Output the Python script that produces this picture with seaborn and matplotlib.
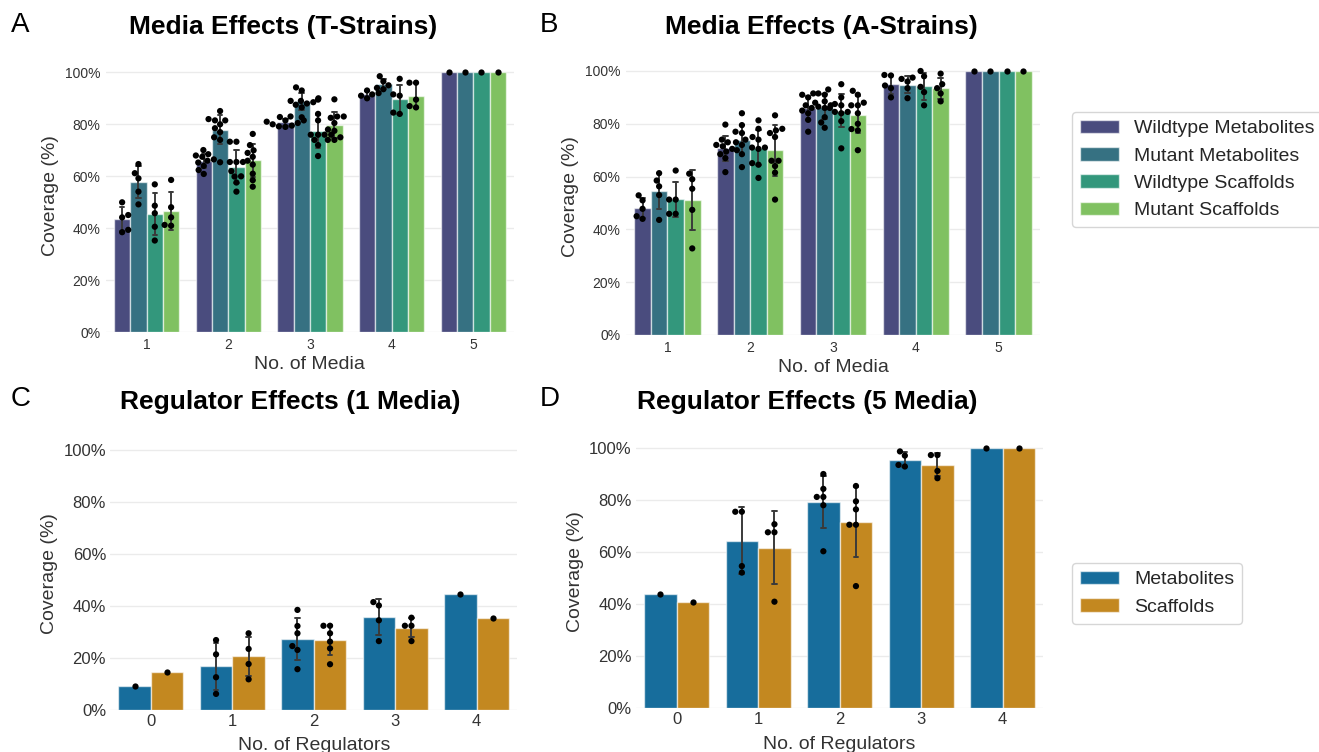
import matplotlib
matplotlib.use("Agg")
import matplotlib.pyplot as plt
import seaborn as sns
import pandas as pd
from matplotlib.ticker import PercentFormatter

# ---------------- data ----------------
media_levels = ["1", "2", "3", "4", "5"]
strain_groups = ["Wildtype Metabolites", "Mutant Metabolites",
                 "Wildtype Scaffolds", "Mutant Scaffolds"]

# T-strains: coverage (%) per number of media
t_wildtype_metabolites = [
    [50.0, 45.1, 44.2, 39.4, 38.5],
    [70.1, 68.5, 68.0, 67.5, 66.5, 66.0, 65.3, 64.0, 62.4, 60.9],
    [83.0, 82.8, 81.5, 81.5, 81.0, 80.5, 80.0, 79.5, 79.2, 79.0],
    [93.0, 92.0, 91.5, 91.0, 90.0],
    [100.0],
]
t_mutant_metabolites = [
    [64.7, 61.2, 59.2, 54.1, 49.2],
    [85.1, 82.0, 81.5, 81.5, 80.0, 78.5, 77.0, 75.0, 74.0, 65.4],
    [94.2, 93.0, 90.0, 88.0, 89.0, 89.0, 88.5, 87.5, 86.5, 82.7],
    [98.5, 96.5, 95.0, 94.0, 93.5],
    [100.0],
]
t_wildtype_scaffolds = [
    [56.9, 48.7, 45.8, 40.6, 35.3],
    [73.3, 73.3, 65.5, 65.5, 65.5, 62.0, 60.0, 59.9, 57.6, 54.1],
    [89.5, 84.0, 81.5, 76.0, 76.0, 76.0, 76.0, 74.0, 72.0, 67.8],
    [97.5, 91.5, 91.0, 84.5, 84.0],
    [100.0],
]
t_mutant_scaffolds = [
    [58.6, 48.1, 44.2, 41.3, 41.0],
    [76.3, 72.0, 70.0, 69.0, 67.5, 66.0, 64.5, 61.0, 58.5, 56.0],
    [89.6, 83.0, 83.0, 82.5, 80.5, 78.0, 77.5, 75.0, 74.0, 74.0],
    [96.0, 96.0, 89.5, 87.0, 86.5],
    [100.0],
]

# A-strains
a_wildtype_metabolites = [
    [52.9, 51.0, 47.8, 45.0, 44.0],
    [79.7, 74.0, 73.0, 72.0, 71.5, 70.5, 69.5, 68.5, 67.0, 61.7],
    [91.5, 91.0, 90.0, 88.0, 87.0, 86.0, 85.0, 84.0, 81.5, 77.0],
    [98.5, 98.3, 94.5, 93.5, 90.0],
    [100.0],
]
a_mutant_metabolites = [
    [61.3, 58.5, 56.3, 53.0, 43.6],
    [84.0, 79.5, 77.0, 76.5, 74.0, 73.0, 72.0, 70.0, 68.5, 63.6],
    [93.0, 91.5, 91.0, 88.5, 87.0, 86.5, 86.0, 80.5, 82.5, 78.5],
    [97.5, 97.0, 96.0, 93.5, 89.7],
    [100.0],
]
a_wildtype_scaffolds = [
    [62.3, 51.3, 51.3, 45.9, 45.9],
    [81.3, 78.1, 75.0, 74.0, 71.0, 71.0, 70.5, 64.5, 65.1, 59.5],
    [95.0, 90.0, 86.0, 87.5, 87.0, 84.5, 84.5, 84.0, 81.0, 70.7],
    [100.0, 98.0, 94.0, 92.0, 87.0],
    [100.0],
]
a_mutant_scaffolds = [
    [61.1, 59.0, 55.4, 47.4, 32.8],
    [83.2, 78.1, 77.5, 76.5, 75.0, 66.0, 66.0, 64.0, 61.5, 51.3],
    [92.5, 91.0, 88.0, 87.0, 87.0, 84.0, 80.0, 78.0, 77.5, 70.0],
    [99.0, 95.0, 93.5, 91.5, 88.5],
    [100.0],
]

# Regulator effects
regulator_levels = ["0", "1", "2", "3", "4"]
compound_groups = ["Metabolites", "Scaffolds"]

reg1_metabolites = [[9.2], [26.9, 21.4, 12.6, 6.2],
                    [38.5, 32.3, 29.5, 24.6, 23.1, 15.7],
                    [41.5, 40.2, 34.5, 26.5], [44.6]]
reg1_scaffolds = [[14.5], [29.5, 23.5, 17.7, 11.8],
                  [32.4, 32.4, 29.5, 26.3, 23.7, 17.6],
                  [35.5, 32.4, 32.4, 26.5], [35.3]]
reg5_metabolites = [[44.0], [75.6, 75.6, 54.7, 52.2],
                    [90.1, 84.4, 81.3, 81.3, 78.1, 60.4],
                    [98.8, 97.2, 93.6, 93.0], [100.0]]
reg5_scaffolds = [[40.9], [70.8, 67.7, 67.7, 41.0],
                  [85.5, 79.6, 76.5, 70.6, 70.6, 47.0],
                  [97.4, 97.4, 91.3, 88.5], [100.0]]


def to_long(levels, groups, series, xname):
    rows = []
    for gname, ser in zip(groups, series):
        for lev, vals in zip(levels, ser):
            for v in vals:
                rows.append({xname: lev, "group": gname, "coverage": v})
    return pd.DataFrame(rows)


df_t = to_long(media_levels, strain_groups,
               [t_wildtype_metabolites, t_mutant_metabolites,
                t_wildtype_scaffolds, t_mutant_scaffolds], "media")
df_a = to_long(media_levels, strain_groups,
               [a_wildtype_metabolites, a_mutant_metabolites,
                a_wildtype_scaffolds, a_mutant_scaffolds], "media")
df_r1 = to_long(regulator_levels, compound_groups,
                [reg1_metabolites, reg1_scaffolds], "regs")
df_r5 = to_long(regulator_levels, compound_groups,
                [reg5_metabolites, reg5_scaffolds], "regs")

# ---------------- style ----------------
sns.set_theme(style="whitegrid")
plt.rcParams["font.family"] = ["Liberation Sans", "DejaVu Sans"]
plt.rcParams["grid.color"] = "#ebebeb"
plt.rcParams["grid.linewidth"] = 1.0

W, H = 1319, 752
fig = plt.figure(figsize=(W / 100, H / 100), dpi=100)


def add_ax(left, right, zero_y, px_per_pct, top_pct=105):
    height = px_per_pct * top_pct
    return fig.add_axes([left / W, 1 - zero_y / H, (right - left) / W, height / H])


axA = add_ax(105.8, 514.0, 332.3, 2.60)
axB = add_ax(626.0, 1040.0, 335.0, 2.64)
axC = add_ax(110.2, 517.3, 710.0, 2.60)
axD = add_ax(635.9, 1043.4, 708.3, 2.60)

viridis = sns.color_palette("viridis", 4)
cb = sns.color_palette("colorblind", 2)


def draw(ax, df, xname, order, hue_order, palette, capsize, tick_size, pad,
         xlabel, xlabelpad):
    sns.barplot(data=df, x=xname, y="coverage", hue="group", order=order,
                hue_order=hue_order, palette=palette, errorbar="sd",
                capsize=capsize, err_kws={"linewidth": 1.4, "color": "#3a3a3a"},
                edgecolor=(1, 1, 1, 0.6), linewidth=1.0, ax=ax)
    sns.swarmplot(data=df, x=xname, y="coverage", hue="group", order=order,
                  hue_order=hue_order, palette=["black"] * len(hue_order),
                  dodge=True, size=4.5, legend=False, ax=ax, zorder=5)
    ax.set_ylim(0, 105)
    ax.set_yticks([0, 20, 40, 60, 80, 100])
    ax.yaxis.set_major_formatter(PercentFormatter(decimals=0))
    ax.tick_params(axis="both", labelsize=tick_size, colors="#333333",
                   length=0, pad=pad)
    ax.set_xlabel(xlabel, fontsize=14, color="#333333", labelpad=xlabelpad)
    ax.set_ylabel("Coverage (%)", fontsize=14, color="#333333", labelpad=4)
    for s in ax.spines.values():
        s.set_visible(False)
    ax.xaxis.grid(False)
    handles, labels = ax.get_legend_handles_labels()
    if ax.get_legend() is not None:
        ax.get_legend().remove()
    return handles, labels


hA, lA = draw(axA, df_t, "media", media_levels, strain_groups, viridis, 0.22, 10, 4, "No. of Media", 3)
hB, lB = draw(axB, df_a, "media", media_levels, strain_groups, viridis, 0.22, 10, 4, "No. of Media", 3)
hC, lC = draw(axC, df_r1, "regs", regulator_levels, compound_groups, cb, 0.12, 12, 3, "No. of Regulators", 6)
hD, lD = draw(axD, df_r5, "regs", regulator_levels, compound_groups, cb, 0.12, 12, 3, "No. of Regulators", 6)

# titles and panel letters
def ftext(x, y, s, **kw):
    fig.text(x / W, 1 - y / H, s, color="black", **kw)

ftext(283.5, 27, "Media Effects (T-Strains)", fontsize=19, fontweight="bold", ha="center", va="center")
ftext(821, 27, "Media Effects (A-Strains)", fontsize=19, fontweight="bold", ha="center", va="center")
ftext(290.5, 402, "Regulator Effects (1 Media)", fontsize=19, fontweight="bold", ha="center", va="center")
ftext(807, 402, "Regulator Effects (5 Media)", fontsize=19, fontweight="bold", ha="center", va="center")
for x, y, s in [(11, 25, "A"), (540, 25, "B"), (11, 399, "C"), (540, 399, "D")]:
    ftext(x, y, s, fontsize=20, ha="left", va="center")

fig.legend(hB, lB, loc="upper left", bbox_to_anchor=(1072 / W, 1 - 112 / H),
           borderaxespad=0, fontsize=14, frameon=True)
fig.legend(hD, lD, loc="upper left", bbox_to_anchor=(1072 / W, 1 - 563 / H),
           borderaxespad=0, fontsize=14, frameon=True)

fig.savefig("out.png", dpi=100)
